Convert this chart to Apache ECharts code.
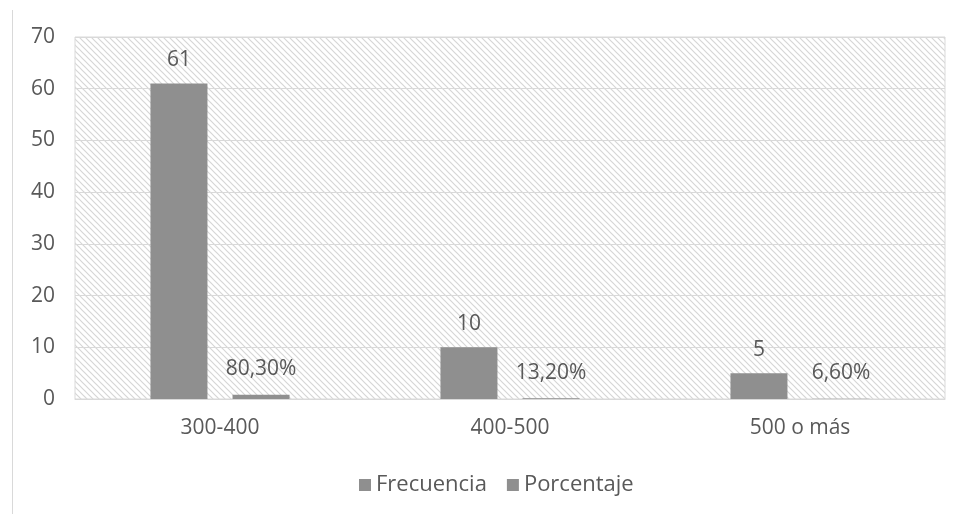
<!DOCTYPE html>
<html><head><meta charset="utf-8">
<script src="https://cdn.jsdelivr.net/npm/echarts@6/dist/echarts.min.js"></script>
<style>html,body{margin:0;padding:0;background:#fff}#c{width:965px;height:514px}</style>
</head><body><div id="c"></div>
<script>
const categories = ['300-400', '400-500', '500 o más'];
const frecuencia = [61, 10, 5];
const porcentaje = [0.803, 0.132, 0.066];
const porcentajeLabels = ['80,30%', '13,20%', '6,60%'];
const yTicks = [0, 10, 20, 30, 40, 50, 60, 70];

const pc = document.createElement('canvas');
pc.width = 6; pc.height = 6;
const px = pc.getContext('2d');
px.strokeStyle = '#d6d6d6';
px.lineWidth = 1.2;
px.beginPath();
px.moveTo(-1, -1); px.lineTo(7, 7);
px.moveTo(-1, 5); px.lineTo(1, 7);
px.moveTo(5, -1); px.lineTo(7, 1);
px.stroke();

const FONT = 'Open Sans';
const FS = 21;
const chart = echarts.init(document.getElementById('c'));
chart.setOption({
  animation: false,
  textStyle: { fontFamily: FONT },
  grid: { left: 75, right: 20, top: 37, bottom: 115, show: true,
          backgroundColor: { image: pc, repeat: 'repeat' }, borderColor: '#d9d9d9', borderWidth: 1 },
  graphic: [{ type: 'line', shape: { x1: 12.5, y1: 10, x2: 12.5, y2: 514 }, style: { stroke: '#d9d9d9', lineWidth: 1 } }],
  legend: { bottom: 13, left: 354, itemWidth: 12, itemHeight: 12, itemGap: 20, icon: 'rect',
            textStyle: { fontFamily: FONT, fontSize: 22, color: '#595959' },
            data: ['Frecuencia', 'Porcentaje'] },
  xAxis: { type: 'category', data: categories,
           axisLine: { lineStyle: { color: '#d9d9d9' } }, axisTick: { show: false },
           axisLabel: { color: '#595959', fontSize: FS, margin: 19, fontFamily: FONT } },
  yAxis: { type: 'value', min: yTicks[0], max: yTicks[yTicks.length - 1], interval: 10,
           axisLine: { show: false }, axisTick: { show: false },
           splitLine: { lineStyle: { color: '#d9d9d9' } },
           axisLabel: { color: '#595959', fontSize: FS, margin: 20, fontFamily: FONT } },
  series: [
    { name: 'Frecuencia', type: 'bar', data: frecuencia, barWidth: 57, barGap: '44%',
      itemStyle: { color: '#8f8f8f' },
      label: { show: true, position: 'top', distance: 13, color: '#595959', fontSize: FS, fontFamily: FONT } },
    { name: 'Porcentaje', type: 'bar', data: porcentaje, barWidth: 57,
      itemStyle: { color: '#8f8f8f' },
      label: { show: true, position: 'top', distance: 15, color: '#595959', fontSize: FS, fontFamily: FONT,
               formatter: p => porcentajeLabels[p.dataIndex] } }
  ]
});
</script></body></html>
